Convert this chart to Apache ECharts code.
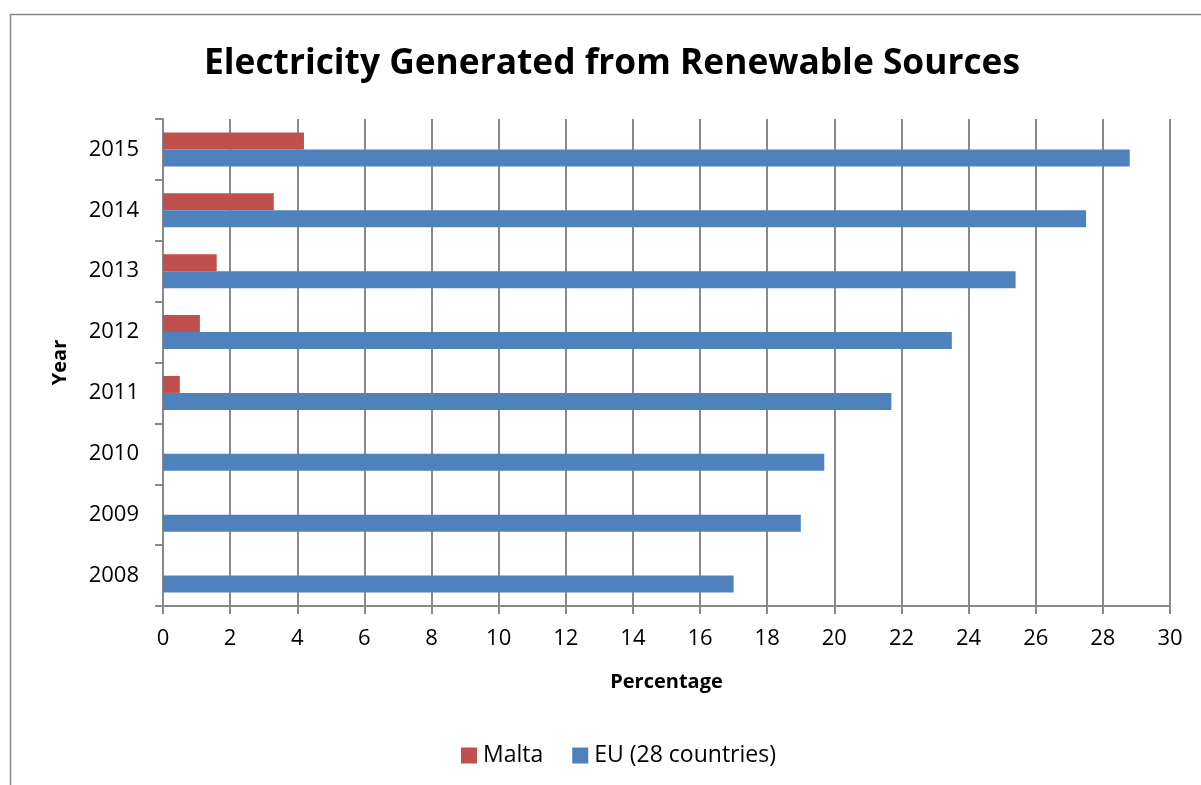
<!DOCTYPE html>
<html>
<head>
<meta charset="utf-8">
<script src="https://cdn.jsdelivr.net/npm/echarts@6/dist/echarts.min.js"></script>
<style>
  html, body { margin: 0; padding: 0; background: #fff; }
  #chart { width: 1201px; height: 785px; }
</style>
</head>
<body>
<div id="chart"></div>
<script>
// Share of electricity generated from renewable sources (%)
const years = ['2008', '2009', '2010', '2011', '2012', '2013', '2014', '2015'];
const malta = [0, 0, 0, 0.5, 1.1, 1.6, 3.3, 4.2];
const eu28 = [17.0, 19.0, 19.7, 21.7, 23.5, 25.4, 27.5, 28.8];
const seriesNames = ['Malta', 'EU (28 countries)'];

const FONT = '"Open Sans", "Liberation Sans", sans-serif';
const AXIS_GRAY = '#898989';

const chart = echarts.init(document.getElementById('chart'));
chart.setOption({
  animation: false,
  textStyle: { fontFamily: FONT, color: '#000' },
  graphic: [{
    type: 'rect',
    shape: { x: 10.5, y: 14.5, width: 1200, height: 800 },
    style: { fill: 'none', stroke: '#888', lineWidth: 1.5 },
    silent: true
  }],
  title: {
    text: 'Electricity Generated from Renewable Sources',
    left: 607,
    textAlign: 'center',
    top: 41,
    textStyle: { fontFamily: FONT, fontSize: 35.3, fontWeight: 'bold', color: '#000' }
  },
  legend: {
    left: 456,
    top: 739,
    itemWidth: 16,
    itemHeight: 16,
    itemGap: 29,
    icon: 'rect',
    textStyle: { fontFamily: FONT, fontSize: 23, color: '#000', padding: [0, 0, 0, 1] },
    data: seriesNames
  },
  grid: { left: 163, right: 31, top: 119, bottom: 179 },
  xAxis: {
    type: 'value',
    min: 0,
    max: 30,
    interval: 2,
    name: 'Percentage',
    nameLocation: 'middle',
    nameGap: 66,
    nameTextStyle: { fontFamily: FONT, fontSize: 20, fontWeight: 'bold', color: '#000' },
    axisLine: { show: true, lineStyle: { color: AXIS_GRAY, width: 2 } },
    axisTick: { show: true, length: 8, lineStyle: { color: AXIS_GRAY, width: 2 } },
    axisLabel: { fontFamily: FONT, fontSize: 22, color: '#000', margin: 22 },
    splitLine: { show: true, lineStyle: { color: AXIS_GRAY, width: 2 } }
  },
  yAxis: {
    type: 'category',
    data: years,
    name: 'Year',
    nameLocation: 'middle',
    nameGap: 93,
    nameRotate: 90,
    nameTextStyle: { fontFamily: FONT, fontSize: 20, fontWeight: 'bold', color: '#000' },
    axisLine: { show: true, lineStyle: { color: AXIS_GRAY, width: 2 } },
    axisTick: { show: true, length: 8, lineStyle: { color: AXIS_GRAY, width: 2 } },
    axisLabel: { fontFamily: FONT, fontSize: 22, color: '#000', margin: 24 }
  },
  series: [
    {
      name: seriesNames[0],
      type: 'bar',
      data: malta,
      barWidth: 17,
      barGap: '0%',
      itemStyle: { color: '#C0504D' }
    },
    {
      name: seriesNames[1],
      type: 'bar',
      data: eu28,
      barWidth: 17,
      barGap: '0%',
      itemStyle: { color: '#4F81BD' }
    }
  ]
});
</script>
</body>
</html>
